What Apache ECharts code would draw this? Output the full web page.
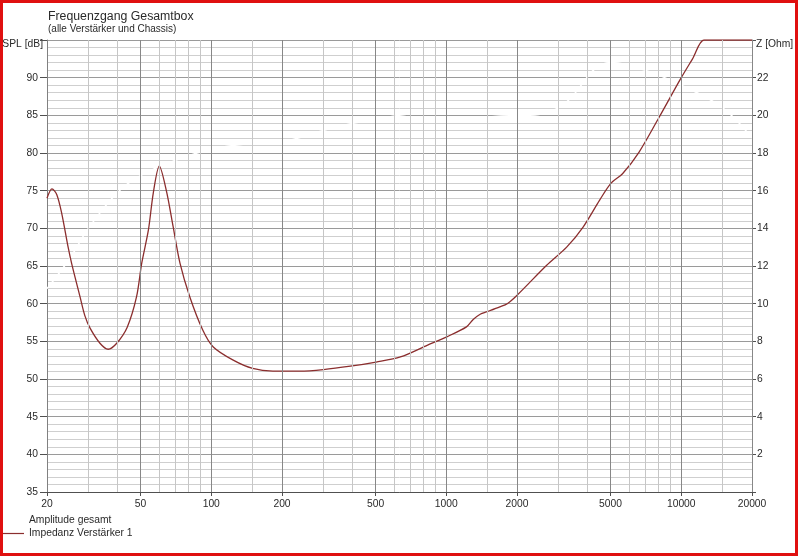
<!DOCTYPE html>
<html>
<head>
<meta charset="utf-8">
<script src="https://cdn.jsdelivr.net/npm/echarts@6/dist/echarts.min.js"></script>
<style>
html,body{margin:0;padding:0;background:#fff;}
#c{width:800px;height:557px;}
</style>
</head>
<body>
<div id="c"></div>
<script>
// ---- data ----
const impFreq = [20,21,22,23.1,24.6,25.5,27.6,29,30.5,33.6,36.4,39.6,43.9,48.1,50.6,54,56.7,60.1,64.4,68.8,73.6,81,92,102,124,150,183,238,300,391,503,638,833,1005,1219,1302,1400,1480,1690,1818,2002,2675,3254,3822,4495,5028,5624,6616,8050,10000,11170,12485,14000,20000];
const impOhm  = [15.6,16.1,15.8,14.8,13.0,12.1,10.4,9.35,8.7,7.9,7.58,7.9,8.75,10.37,12.15,13.9,15.9,17.3,16.0,14.1,12.15,10.37,8.6,7.7,7.0,6.56,6.42,6.42,6.5,6.68,6.9,7.17,7.8,8.24,8.77,9.16,9.45,9.56,9.83,10.0,10.45,12.04,13.0,14.07,15.5,16.4,16.9,18.05,19.9,22.0,23.0,24.0,24.0,24.0];
const ampFreq = [20,25,30,40,50,70,100,150,200,300,500,1000,2000,3000,5000,7000,10000,15000,20000];
const ampDb   = [62,66,70,74.8,77,79,80.5,81.3,81.5,83,84.5,85.5,85,86,92,91,89,86,82];
const xTickLabels = [20,50,100,200,500,1000,2000,5000,10000,20000];
const majorGridFreqs = [50,100,200,500,1000,2000,5000,10000,20000];
const minorGridFreqs = [30,40,60,70,80,90,150,300,400,600,700,800,900,1500,3000,4000,6000,7000,8000,9000,15000];
const seriesNames = ['Amplitude gesamt','Impedanz Verstärker 1'];
const axisNames = ['SPL [dB]','Z [Ohm]'];

const zip = (a,b) => a.map((v,i)=>[v,b[i]]);
const font = 'Liberation Sans, Arial, sans-serif';
const txt = '#2a2a2a';
const fs = 10.3;

const gridLines = [].concat(
  minorGridFreqs.map(f => ({xAxis: f, lineStyle:{color:'#c6c6c6', width:1, type:'solid'}})),
  majorGridFreqs.map(f => ({xAxis: f, lineStyle:{color:'#878787', width:1, type:'solid'}}))
);

const chart = echarts.init(document.getElementById('c'), null, {renderer:'canvas'});
chart.setOption({
  animation:false,
  backgroundColor:'#fff',
  textStyle:{fontFamily:font},
  title:{
    text:'Frequenzgang Gesamtbox',
    subtext:'(alle Verstärker und Chassis)',
    left:43, top:6, itemGap:1,
    textStyle:{fontSize:12.3, fontWeight:'normal', color:txt, fontFamily:font},
    subtextStyle:{fontSize:10, color:txt, fontFamily:font}
  },
  legend:{
    orient:'vertical', left:2, top:514, itemGap:0, padding:0,
    itemWidth:22, itemHeight:1.2,
    textStyle:{fontSize:fs, color:txt, fontFamily:font, lineHeight:13},
    data:[{name:seriesNames[0], icon:'rect'},{name:seriesNames[1], icon:'rect'}]
  },
  graphic:[{
    type:'rect', silent:true, z:100,
    shape:{x:1.5, y:1.5, width:795, height:553},
    style:{fill:'none', stroke:'#e01010', lineWidth:3}
  }],
  grid:{left:47, right:48, top:40, bottom:65, outerBoundsMode:'none', containLabel:false},
  xAxis:{
    type:'log', logBase:10, min:20, max:20000,
    axisLine:{show:true, onZero:false, lineStyle:{color:'#505050'}},
    axisTick:{show:true, length:4, customValues:xTickLabels, lineStyle:{color:'#505050'}},
    axisLabel:{customValues:xTickLabels, color:txt, fontSize:fs, margin:7, fontFamily:font,
      showMinLabel:true, showMaxLabel:true, formatter: v => String(Math.round(v))},
    splitLine:{show:false},
    minorTick:{show:false}, minorSplitLine:{show:false}
  },
  yAxis:[{
    type:'value', min:35, max:95, interval:5, position:'left',
    name:axisNames[0], nameLocation:'end', nameGap:-4,
    nameTextStyle:{align:'right', verticalAlign:'middle', fontSize:fs, color:txt, fontFamily:font, padding:[0,4,0,0]},
    axisLine:{show:true, lineStyle:{color:'#808080'}},
    axisTick:{show:true, length:7, lineStyle:{color:'#505050'}},
    axisLabel:{color:txt, fontSize:fs, margin:9, fontFamily:font,
      formatter: v => v===95 ? '' : String(v)},
    splitLine:{show:true, lineStyle:{color:'#9a9a9a', width:1}},
    minorTick:{show:false, splitNumber:5},
    minorSplitLine:{show:true, lineStyle:{color:'#cfcfcf', width:1}}
  },{
    type:'value', min:0, max:24, interval:2, position:'right',
    name:axisNames[1], nameLocation:'end', nameGap:-4,
    nameTextStyle:{align:'left', verticalAlign:'middle', fontSize:fs, color:txt, fontFamily:font, padding:[0,0,0,4]},
    axisLine:{show:true, lineStyle:{color:'#808080'}},
    axisTick:{show:true, length:4, lineStyle:{color:'#505050'}},
    axisLabel:{color:txt, fontSize:fs, margin:5, fontFamily:font,
      formatter: v => (v===24 || v===0) ? '' : String(v)},
    splitLine:{show:false}
  }],
  series:[{
    name:'grid', type:'line', data:[], z:1, silent:true,
    markLine:{silent:true, symbol:['none','none'], label:{show:false}, animation:false, data:gridLines}
  },{
    name:seriesNames[0], type:'line', yAxisIndex:0, z:2,
    data:zip(ampFreq, ampDb), showSymbol:false, symbol:'none', smooth:0.4,
    itemStyle:{color:'#ffffff'}, lineStyle:{color:'#ffffff', width:1.5}
  },{
    name:seriesNames[1], type:'line', yAxisIndex:1, z:3,
    data:zip(impFreq, impOhm), showSymbol:false, symbol:'none', smooth:0.3,
    itemStyle:{color:'#8b2e2e'}, lineStyle:{color:'#8b2e2e', width:1.3}
  }]
});
</script>
</body>
</html>
